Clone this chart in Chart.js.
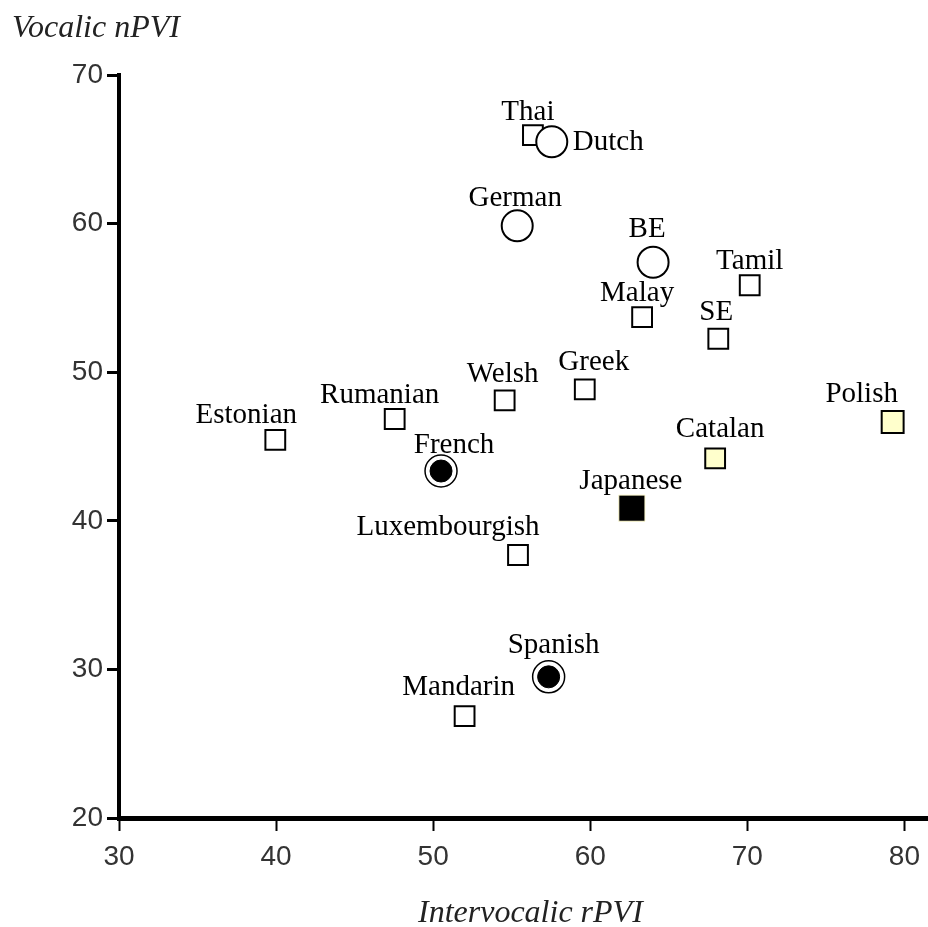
<!DOCTYPE html>
<html>
<head>
<meta charset="utf-8">
<script src="https://cdn.jsdelivr.net/npm/chart.js@4"></script>
<style>
  html, body { margin: 0; padding: 0; background: #fff; }
  #wrap { width: 928px; height: 927px; }
</style>
</head>
<body>
<div id="wrap"><canvas id="pviChart" width="928" height="927"></canvas></div>
<script>
// Données
const languages = ["Thai", "Dutch", "German", "BE", "Malay", "Tamil", "SE", "Polish", "Catalan",
  "Greek", "Welsh", "Rumanian", "Estonian", "French", "Japanese", "Luxembourgish", "Spanish", "Mandarin"];
const rPVI = [56.35, 57.55, 55.35, 64.0, 63.3, 70.15, 68.15, 79.25, 67.95,
  59.65, 54.55, 47.55, 39.95, 50.5, 62.65, 55.4, 57.35, 52.0];
const nPVI = [65.95, 65.5, 59.85, 57.4, 53.7, 55.85, 52.25, 46.65, 44.2,
  48.85, 48.1, 46.85, 45.45, 43.35, 40.85, 37.7, 29.5, 26.85];
const markerGroup = ["square", "circle", "circle", "circle", "square", "square", "square", "yellow", "yellow",
  "square", "square", "square", "square", "ringed", "black", "square", "ringed", "square"];
const xTicks = [30, 40, 50, 60, 70, 80];
const yTicks = [20, 30, 40, 50, 60, 70];

// Décalage des étiquettes (pixels) : [dx centre du texte, dy ligne de base]
const labelShift = {
  Thai: [-5, -15], Dutch: [21, 8, "left"], German: [-2, -20], BE: [-6, -25], Malay: [-5, -16],
  Tamil: [0, -16], SE: [-2, -19], Polish: [-31, -20], Catalan: [5, -21], Greek: [9, -19],
  Welsh: [-2, -18], Rumanian: [-15, -16], Estonian: [-29, -17], French: [13, -18],
  Japanese: [-1, -19], Luxembourgish: [-70, -20], Spanish: [5, -24], Mandarin: [-6, -21]
};

function pointsFor(group) {
  const pts = [];
  languages.forEach((name, i) => {
    if (markerGroup[i] === group) pts.push({ x: rPVI[i], y: nPVI[i], label: name });
  });
  return pts;
}

// Étiquettes de points et titres d'axes
const labelPlugin = {
  id: "pointLabels",
  afterDatasetsDraw(chart) {
    const ctx = chart.ctx;
    const xs = chart.scales.x;
    const ys = chart.scales.y;
    ctx.save();
    ctx.fillStyle = "#000";
    ctx.textBaseline = "alphabetic";
    ctx.font = "29px 'Liberation Serif', 'Times New Roman', serif";
    languages.forEach((name, i) => {
      const shift = labelShift[name] || [0, -20];
      const px = xs.getPixelForValue(rPVI[i]);
      const py = ys.getPixelForValue(nPVI[i]);
      ctx.textAlign = shift[2] || "center";
      ctx.fillText(name, px + shift[0], py + shift[1]);
    });
    ctx.font = "italic 32px 'Liberation Serif', 'Times New Roman', serif";
    ctx.fillStyle = "#222";
    ctx.textAlign = "left";
    ctx.fillText("Vocalic nPVI", 12, 37);
    ctx.fillText("Intervocalic rPVI", 418, 922);
    ctx.restore();
  }
};

document.addEventListener("DOMContentLoaded", () => {
  const ctx = document.getElementById("pviChart").getContext("2d");

  new Chart(ctx, {
    type: "scatter",
    data: {
      datasets: [
        {
          label: "ringed dot",
          data: pointsFor("ringed"),
          pointStyle: "circle",
          pointRadius: 11,
          backgroundColor: "#000",
          borderColor: "#000",
          borderWidth: 1,
          order: 0,
        },
        {
          label: "ringed",
          data: pointsFor("ringed"),
          pointStyle: "circle",
          pointRadius: 16,
          backgroundColor: "#fff",
          borderColor: "#000",
          borderWidth: 1.5,
          order: 1,
        },
        {
          label: "circle",
          data: pointsFor("circle"),
          pointStyle: "circle",
          pointRadius: 15.5,
          backgroundColor: "#fff",
          borderColor: "#000",
          borderWidth: 2,
          order: 2,
        },
        {
          label: "black",
          data: pointsFor("black"),
          pointStyle: "rect",
          pointRadius: 18.5,
          backgroundColor: "#000",
          borderColor: "#fffbd0",
          borderWidth: 1,
          order: 3,
        },
        {
          label: "yellow",
          data: pointsFor("yellow"),
          pointStyle: "rect",
          pointRadius: [15.5, 14],
          backgroundColor: "#ffffcc",
          borderColor: "#000",
          borderWidth: 2,
          order: 3,
        },
        {
          label: "square",
          data: pointsFor("square"),
          pointStyle: "rect",
          pointRadius: 14,
          backgroundColor: "#fff",
          borderColor: "#000",
          borderWidth: 2,
          order: 4,
        },
      ],
    },
    options: {
      responsive: false,
      animation: false,
      layout: { autoPadding: false, padding: { left: 0, top: 75, right: 0, bottom: 0 } },
      plugins: {
        legend: { display: false },
        tooltip: { enabled: false },
      },
      elements: { point: { hoverRadius: 0 } },
      scales: {
        x: {
          type: "linear",
          min: 30,
          max: 81.5,
          afterFit: (scale) => {
            scale.height = 109;
            scale.paddingLeft = 0;
            scale.paddingRight = 0;
          },
          afterBuildTicks: (scale) => { scale.ticks = xTicks.map((v) => ({ value: v })); },
          ticks: {
            includeBounds: false,
            padding: 9,
            color: "#333",
            font: { family: "'Liberation Sans', Arial, sans-serif", size: 28 },
            maxRotation: 0,
          },
          grid: { drawOnChartArea: false, tickLength: 13, tickWidth: 2, tickColor: "#000" },
          border: { display: true, width: 5, color: "#000" },
        },
        y: {
          type: "linear",
          min: 20,
          max: 70,
          afterFit: (scale) => {
            scale.width = 119;
            scale.paddingTop = 0;
            scale.paddingBottom = 0;
          },
          afterBuildTicks: (scale) => { scale.ticks = yTicks.map((v) => ({ value: v })); },
          ticks: {
            padding: 4,
            color: "#333",
            font: { family: "'Liberation Sans', Arial, sans-serif", size: 28 },
          },
          grid: { drawOnChartArea: false, tickLength: 12, tickWidth: 3, tickColor: "#000" },
          border: { display: true, width: 4, color: "#000" },
        },
      },
    },
    plugins: [labelPlugin],
  });
});
</script>
</body>
</html>
